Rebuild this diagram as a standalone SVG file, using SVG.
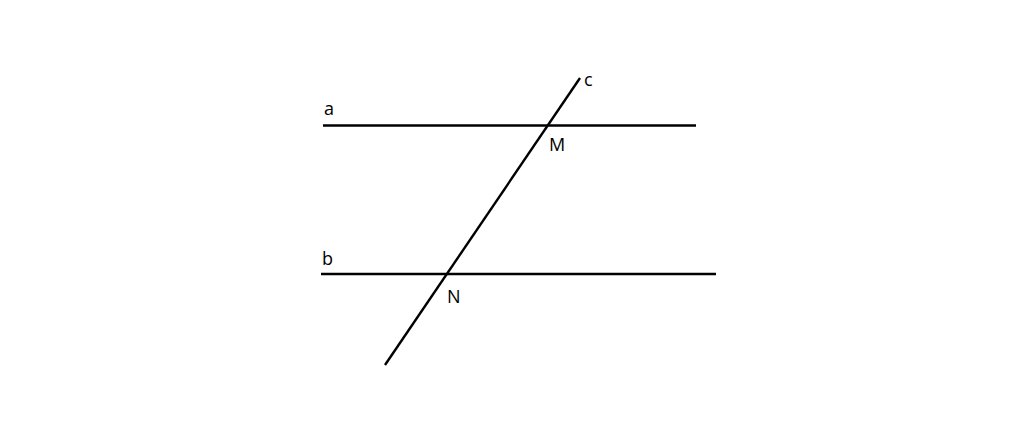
<svg xmlns="http://www.w3.org/2000/svg" width="1024" height="444" viewBox="0 0 1024 444">
<style>
.l{stroke:#000;stroke-width:2.4;fill:none}
.t{font-family:"Open Sans","DejaVu Sans",sans-serif;font-size:18px;fill:#000}
</style>
<rect width="1024" height="444" fill="#fff"/>
<g id="connectors">
<line class="l" x1="323" y1="125.5" x2="696" y2="125.5"/>
<line class="l" x1="321" y1="274" x2="716" y2="274"/>
<line class="l" x1="385" y1="365" x2="580" y2="78"/>
</g>
<g id="labels">
<text class="t" x="324" y="115">a</text>
<text class="t" x="584" y="86">c</text>
<text class="t" x="549" y="151">M</text>
<text class="t" x="322" y="265">b</text>
<text class="t" x="447" y="303">N</text>
</g>
</svg>
